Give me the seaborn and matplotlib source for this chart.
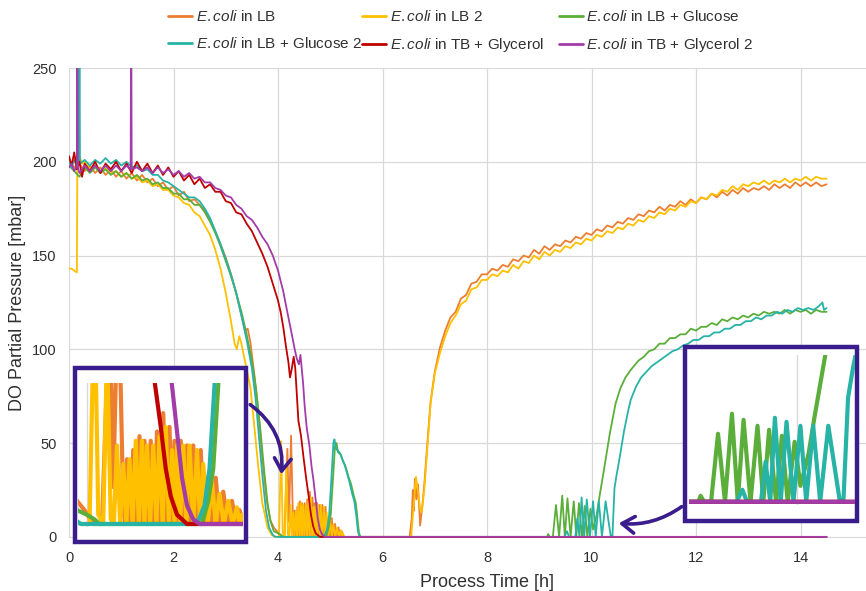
import numpy as np
import pandas as pd
import seaborn as sns
import matplotlib
matplotlib.use("Agg")
import matplotlib.pyplot as plt
from matplotlib.patches import Rectangle, FancyArrowPatch
from matplotlib.lines import Line2D

# ---------------- data (time [h], DO partial pressure [mbar]) ----------------
series_names = ["E.coli in LB", "E.coli in LB 2", "E.coli in LB + Glucose",
                "E.coli in LB + Glucose 2", "E.coli in TB + Glycerol", "E.coli in TB + Glycerol 2"]
legend_labels = [r"$\mathit{E.coli}$ in LB", r"$\mathit{E.coli}$ in LB 2",
                 r"$\mathit{E.coli}$ in LB + Glucose", r"$\mathit{E.coli}$ in LB + Glucose 2",
                 r"$\mathit{E.coli}$ in TB + Glycerol", r"$\mathit{E.coli}$ in TB + Glycerol 2"]
colors = ["#ED7D31", "#FFC000", "#5BAE3A", "#27B3A6", "#C00000", "#A23CA8"]

lb = [(0.0,201),(0.1,197),(0.2,199),(0.3,195),(0.4,198),(0.5,194),(0.6,197),(0.7,193),(0.8,196),(0.9,192),
      (1.0,195),(1.1,191),(1.2,194),(1.3,190),(1.4,193),(1.5,189),(1.6,191),(1.7,187),(1.8,189),(1.9,185),
      (2.0,187),(2.1,182),(2.2,184),(2.3,179),(2.4,180),(2.5,177),(2.6,174),(2.7,169),(2.8,163),(2.9,156),
      (3.0,149),(3.1,140),(3.2,130),(3.3,118),(3.37,110),(3.42,111),(3.47,104),(3.55,86),(3.62,68),(3.7,42),
      (3.78,20),(3.85,9),(3.92,5),(3.98,3),(4.05,0),(4.12,0),(4.18,47),(4.21,8),(4.25,54),(4.29,4),
      (4.305,0),(4.32,14),(4.345,0),(4.37,16),(4.395,0),(4.42,19),(4.44,0),(4.46,18),(4.485,0),(4.51,18),
      (4.535,0),(4.56,20),(4.585,0),(4.61,24),(4.635,0),(4.66,21),(4.68,0),(4.70,18),(4.725,0),(4.75,18),
      (4.775,0),(4.80,17),(4.825,0),(4.85,17),(4.88,0),(4.91,16),(4.935,0),(4.96,10),(4.995,0),(5.03,10),
      (5.06,0),(5.09,7),(5.125,0),(5.16,5),(5.19,0),(5.22,3),(5.25,0),(6.52,0),(6.56,10),(6.58,25),
      (6.6,14),(6.62,31),(6.65,20),(6.68,28),(6.72,6),(6.76,16),(6.8,28),(6.85,47),(6.92,72),(6.98,84),
      (7.0,88),(7.1,101),(7.2,110),(7.3,117),(7.4,120),(7.5,127),(7.6,129),(7.7,135),(7.8,136),(7.9,140),
      (8.0,140),(8.1,143),(8.2,142),(8.3,145),(8.4,144),(8.5,148),(8.6,147),(8.7,150),(8.8,149),(8.9,153),
      (9.0,151),(9.1,155),(9.2,153),(9.3,156),(9.4,155),(9.5,158),(9.6,157),(9.7,160),(9.8,159),(9.9,162),
      (10.0,161),(10.1,164),(10.2,163),(10.3,166),(10.4,165),(10.5,168),(10.6,167),(10.7,170),(10.8,169),(10.9,172),
      (11.0,171),(11.1,174),(11.2,173),(11.3,176),(11.4,174),(11.5,177),(11.6,176),(11.7,179),(11.8,177),(11.9,180),
      (12.0,178),(12.1,181),(12.2,180),(12.3,183),(12.4,181),(12.5,184),(12.6,182),(12.7,185),(12.8,183),(12.9,186),
      (13.0,184),(13.1,186),(13.2,185),(13.3,187),(13.4,185),(13.5,188),(13.6,186),(13.7,188),(13.8,186),(13.9,189),
      (14.0,187),(14.1,189),(14.2,187),(14.3,189),(14.4,187),(14.5,188)]

lb2 = [(0.0,143),(0.05,143),(0.1,142),(0.15,141),(0.16,200),(0.2,203),(0.25,199),(0.3,200),(0.4,196),(0.5,198),
       (0.6,195),(0.7,197),(0.8,194),(0.9,195),(1.0,192),(1.1,194),(1.2,191),(1.3,192),(1.4,189),(1.5,190),
       (1.6,187),(1.7,188),(1.8,185),(1.9,185),(2.0,182),(2.1,181),(2.2,178),(2.3,177),(2.4,173),(2.5,171),
       (2.6,166),(2.7,161),(2.8,153),(2.9,143),(3.0,130),(3.1,115),(3.17,103),(3.21,100),(3.26,107),(3.3,103),
       (3.38,92),(3.47,80),(3.55,58),(3.62,38),(3.7,18),(3.8,5),(3.88,1),(3.95,0),(4.02,0),(4.06,51),
       (4.09,2),(4.13,0),(4.16,38),(4.19,1),(4.215,0),(4.24,17),(4.265,0),(4.29,13),(4.315,0),(4.34,14),
       (4.365,0),(4.39,18),(4.415,0),(4.44,18),(4.46,0),(4.48,17),(4.505,0),(4.53,17),(4.555,0),(4.58,19),
       (4.605,0),(4.63,21),(4.655,0),(4.68,16),(4.70,0),(4.72,17),(4.745,0),(4.77,17),(4.795,0),(4.82,17),
       (4.85,0),(4.88,16),(4.905,0),(4.93,13),(4.965,0),(5.0,9),(5.03,0),(5.06,6.5),(5.095,0),(5.13,5),
       (5.165,0),(5.2,3.6),(5.22,0),(5.24,2),(5.27,0),(6.55,0),(6.6,18),(6.64,32),(6.68,24),(6.72,15),
       (6.75,13),(6.8,25),(6.86,48),(6.92,71),(6.98,83),
       (7.0,87),(7.1,98),(7.2,107),(7.3,114),(7.4,118),(7.5,124),(7.6,126),(7.7,132),(7.8,133),(7.9,137),
       (8.0,137),(8.1,140),(8.2,139),(8.3,142),(8.4,141),(8.5,145),(8.6,143),(8.7,147),(8.8,146),(8.9,150),
       (9.0,148),(9.1,152),(9.2,150),(9.3,153),(9.4,152),(9.5,155),(9.6,154),(9.7,157),(9.8,156),(9.9,159),
       (10.0,158),(10.1,161),(10.2,160),(10.3,163),(10.4,162),(10.5,165),(10.6,164),(10.7,167),(10.8,166),(10.9,169),
       (11.0,168),(11.1,171),(11.2,170),(11.3,173),(11.4,172),(11.5,175),(11.6,174),(11.7,177),(11.8,176),(11.9,179),
       (12.0,178),(12.1,181),(12.2,180),(12.3,183),(12.4,182),(12.5,185),(12.6,184),(12.7,187),(12.8,185),(12.9,188),
       (13.0,187),(13.1,189),(13.2,188),(13.3,190),(13.4,188),(13.5,190),(13.6,189),(13.7,191),(13.8,189),(13.9,191),
       (14.0,190),(14.1,192),(14.2,190),(14.3,192),(14.4,191),(14.5,191)]

lb_glc = [(0.0,198),(0.1,195),(0.2,192),(0.3,197),(0.4,194),(0.5,197),(0.6,194),(0.7,196),(0.8,193),(0.9,195),
          (1.0,192),(1.1,194),(1.2,191),(1.3,193),(1.4,190),(1.5,191),(1.6,188),(1.7,189),(1.8,186),(1.9,186),
          (2.0,183),(2.1,183),(2.2,180),(2.3,180),(2.4,177),(2.5,177),(2.6,173),(2.7,168),(2.8,162),(2.9,155),
          (3.0,147),(3.1,139),(3.2,130),(3.3,120),(3.4,108),(3.5,94),(3.58,79),(3.66,58),(3.74,34),(3.8,18),
          (3.86,8),(3.92,3),(4.0,2),(4.06,1),(4.1,0),(4.92,0),(4.97,5),(5.01,12),(5.05,30),(5.09,48),
          (5.12,50),(5.15,45),(5.2,44),(5.25,40),(5.3,37),(5.35,32),(5.4,28),(5.45,22),(5.49,18),(5.52,10),
          (5.55,2),(5.58,0),(9.15,0),(9.17,1.5),(9.2,0),(9.26,0),(9.32,17),(9.38,0),(9.44,22),(9.49,0),
          (9.54,20.5),(9.60,0),(9.66,19),(9.71,0),(9.76,18),(9.82,0),(9.87,16.5),(9.92,0),(9.98,15),(10.03,4),
          (10.1,12),(10.15,21),(10.24,36),(10.35,55),(10.46,71),(10.55,79),(10.65,85),(10.75,89),(10.9,94),(11.0,96),
          (11.1,99),(11.2,100),(11.3,103),(11.4,103),(11.5,106),(11.6,106),(11.7,108),(11.8,108),(11.9,111),(12.0,110),
          (12.1,112),(12.2,112),(12.3,114),(12.4,113),(12.5,116),(12.6,115),(12.7,117),(12.8,116),(12.9,118),(13.0,117),
          (13.1,119),(13.2,118),(13.3,120),(13.4,119),(13.5,120),(13.6,119),(13.7,121),(13.8,119),(13.9,121),(14.0,120),
          (14.1,121),(14.2,119),(14.3,121),(14.4,120),(14.5,120)]

lb_glc2 = [(0.0,200),(0.05,197),(0.1,201),(0.15,198),(0.19,200),(0.2,275),(0.21,199),(0.3,201),(0.4,198),(0.5,201),
           (0.6,199),(0.7,202),(0.8,199),(0.9,201),(1.0,198),(1.1,200),(1.2,197),(1.3,198),(1.4,195),(1.5,196),
           (1.6,193),(1.7,193),(1.8,190),(1.9,189),(2.0,187),(2.1,185),(2.2,183),(2.3,181),(2.4,181),(2.5,179),
           (2.6,175),(2.7,170),(2.8,163),(2.9,156),(3.0,148),(3.1,140),(3.2,130),(3.3,118),(3.4,105),(3.5,90),
           (3.57,74),(3.64,52),(3.71,30),(3.77,14),(3.83,5),(3.9,1),(3.95,0),(4.88,0),(4.94,4),(4.98,12),
           (5.02,30),(5.06,50),(5.08,52),(5.11,47),(5.14,46),(5.18,45),(5.22,42),(5.27,39),(5.32,34),(5.37,29),
           (5.42,23),(5.46,19),(5.5,11),(5.53,3),(5.56,0),(9.48,0),(9.53,3),(9.57,0),(9.69,0),(9.73,10),
           (9.77,0),(9.81,21),(9.86,0),(9.91,20),(9.97,0),(10.03,19),(10.08,0),(10.14,19),(10.2,0),(10.27,19),
           (10.37,0),(10.40,0),(10.44,26),(10.48,33),(10.5,36),(10.55,44),(10.62,56),(10.7,67),(10.75,73),(10.85,80),
           (10.95,85),(11.05,88),(11.15,91),(11.25,93),(11.35,95),(11.45,97),(11.55,99),(11.65,100),(11.75,102),(11.85,103),
           (11.95,105),(12.05,105),(12.15,107),(12.25,107),(12.35,109),(12.45,109),(12.55,111),(12.65,111),(12.75,113),(12.85,113),
           (12.95,115),(13.05,115),(13.15,117),(13.25,116),(13.35,118),(13.45,118),(13.55,120),(13.65,119),(13.75,121),(13.85,120),
           (13.95,122),(14.05,121),(14.15,122),(14.25,121),(14.35,123),(14.42,125),(14.45,121),(14.5,122)]

tb_gly = [(0.0,203),(0.05,198),(0.1,205),(0.15,196),(0.2,200),(0.25,192),(0.3,199),(0.4,195),(0.5,200),(0.6,194),
          (0.7,199),(0.8,196),(0.9,200),(1.0,195),(1.1,199),(1.2,194),(1.3,200),(1.4,195),(1.5,199),(1.6,194),
          (1.7,198),(1.8,193),(1.9,197),(2.0,192),(2.1,195),(2.2,190),(2.3,193),(2.4,188),(2.5,191),(2.6,186),
          (2.7,188),(2.8,184),(2.9,184),(3.0,179),(3.1,178),(3.2,173),(3.3,172),(3.4,167),(3.5,163),(3.6,157),
          (3.7,151),(3.8,144),(3.9,135),(4.0,126),(4.05,120),(4.1,112),(4.15,102),(4.2,93),(4.23,85),(4.26,89),
          (4.3,96),(4.33,90),(4.36,76),(4.39,62),(4.44,54),(4.49,42),(4.54,31),(4.59,21),(4.63,12),(4.67,6),
          (4.72,2),(4.8,0),(14.5,0)]

tb_gly2 = [(0.0,197),(0.05,199),(0.1,195),(0.15,198),(0.16,290),(0.17,197),(0.2,194),(0.3,198),(0.4,195),(0.5,198),
           (0.6,195),(0.7,198),(0.8,195),(0.9,198),(1.0,195),(1.1,198),(1.18,196),(1.19,290),(1.2,196),(1.3,197),
           (1.4,195),(1.5,197),(1.6,194),(1.7,197),(1.8,194),(1.9,196),(2.0,193),(2.1,195),(2.2,192),(2.3,194),
           (2.4,191),(2.5,192),(2.6,189),(2.7,189),(2.8,186),(2.9,185),(3.0,182),(3.1,181),(3.2,177),(3.3,175),
           (3.4,171),(3.5,169),(3.6,165),(3.7,160),(3.8,156),(3.9,150),(4.0,142),(4.1,131),(4.17,121),(4.25,110),
           (4.32,100),(4.36,95),(4.4,92),(4.43,97),(4.46,88),(4.48,82),(4.51,70),(4.55,58),(4.6,49),(4.64,38),
           (4.68,30),(4.72,20),(4.76,10),(4.8,4),(4.85,1),(4.9,0),(14.5,0)]

x_ticks = [0, 2, 4, 6, 8, 10, 12, 14]
y_ticks = [0, 50, 100, 150, 200, 250]

all_series = [lb, lb2, lb_glc, lb_glc2, tb_gly, tb_gly2]
frames = []
for name, pts in zip(series_names, all_series):
    arr = np.array(pts, dtype=float)
    frames.append(pd.DataFrame({"t": arr[:, 0], "y": arr[:, 1], "series": name}))
df = pd.concat(frames, ignore_index=True)

# ---------------- styling ----------------
sns.set_theme(style="whitegrid")
plt.rcParams["font.family"] = ["Liberation Sans", "DejaVu Sans"]
plt.rcParams["mathtext.fontset"] = "custom"
plt.rcParams["mathtext.it"] = "Liberation Sans:italic"
plt.rcParams["mathtext.rm"] = "Liberation Sans"

W, H = 866, 591
def fx(px): return px / W
def fy(py): return 1 - py / H

TXT = "#303030"
GRID = "#D9D9D9"
INDIGO = "#3B1C8C"

fig = plt.figure(figsize=(W / 100, H / 100), dpi=100)
ax = fig.add_axes([fx(69), fy(538), (905 - 69) / W, (538 - 68) / H])
sns.lineplot(data=df, x="t", y="y", hue="series", hue_order=series_names, palette=colors,
             sort=False, estimator=None, lw=1.3, legend=False, ax=ax)
ax.set_xlim(0, 16)
ax.set_ylim(-0.6, 250)
ax.set_xticks(x_ticks)
ax.set_yticks(y_ticks)
ax.grid(True, color=GRID, lw=0.9)
ax.axvline(16, color=GRID, lw=0.9)
for s in ax.spines.values():
    s.set_visible(False)
ax.tick_params(axis="both", length=0, labelsize=10.5, labelcolor=TXT)
ax.tick_params(axis="x", pad=9)
ax.tick_params(axis="y", pad=9)
ax.set_xlabel("Process Time [h]", fontsize=13, color=TXT, labelpad=7)
ax.set_ylabel("DO Partial Pressure [mbar]", fontsize=13, color=TXT, labelpad=4)

# ---------------- insets ----------------
boxL = Rectangle((fx(75), fy(542)), (246 - 75) / W, (542 - 368) / H, transform=fig.transFigure,
                 fc="white", ec=INDIGO, lw=3.2, zorder=1)
fig.add_artist(boxL)
axL = fig.add_axes([fx(78), fy(527), (243 - 78) / W, (527 - 383) / H])
axL.set_zorder(2)
sns.lineplot(data=df, x="t", y="y", hue="series", hue_order=series_names, palette=colors,
             sort=False, estimator=None, lw=3.0, legend=False, ax=axL)
axL.set_xlim(3.928, 5.248)
axL.set_ylim(-0.65, 30.5)

boxR = Rectangle((fx(685), fy(521)), (857 - 685) / W, (521 - 347) / H, transform=fig.transFigure,
                 fc="white", ec=INDIGO, lw=3.2, zorder=1)
fig.add_artist(boxR)
axR = fig.add_axes([fx(689), fy(505), (855 - 689) / W, (505 - 355) / H])
axR.set_zorder(2)
sns.lineplot(data=df, x="t", y="y", hue="series", hue_order=series_names, palette=colors,
             sort=False, estimator=None, lw=3.0, legend=False, ax=axR)
axR.set_xlim(9.07, 10.5)
axR.set_ylim(-0.8, 36.7)

for a, gx in ((axL, 4), (axR, 10)):
    a.set_facecolor("none")
    a.set_xticks([gx])
    a.set_yticks([])
    a.grid(False)
    a.grid(True, axis="x", color=GRID, lw=1.0)
    a.tick_params(length=0, labelbottom=False, labelleft=False)
    a.set_xlabel("")
    a.set_ylabel("")
    for s in a.spines.values():
        s.set_visible(False)

# arrows
arrL = FancyArrowPatch((fx(248), fy(403)), (fx(281), fy(477)), transform=fig.transFigure,
                       connectionstyle="arc3,rad=-0.3", arrowstyle="->,head_length=0.45,head_width=0.3",
                       mutation_scale=20, lw=2.6, color=INDIGO, zorder=3)
fig.add_artist(arrL)
arrR = FancyArrowPatch((fx(684), fy(505)), (fx(616), fy(523)), transform=fig.transFigure,
                       connectionstyle="arc3,rad=-0.2", arrowstyle="->,head_length=0.45,head_width=0.3",
                       mutation_scale=20, lw=2.6, color=INDIGO, zorder=3)
fig.add_artist(arrR)

# ---------------- legend (three columns, two rows) ----------------
handles = [Line2D([0], [0], color=c, lw=2) for c in colors]
col_x = [168, 362, 559]
for i, x0 in enumerate(col_x):
    idx = [i, i + 3]
    fig.legend([handles[j] for j in idx], [legend_labels[j] for j in idx],
               loc="upper left", bbox_to_anchor=(fx(x0), fy(9)), frameon=False,
               fontsize=11, handlelength=1.6, handletextpad=0.2, borderpad=0,
               borderaxespad=0, labelspacing=0.8, labelcolor=TXT)

fig.savefig("out.png", dpi=100)
